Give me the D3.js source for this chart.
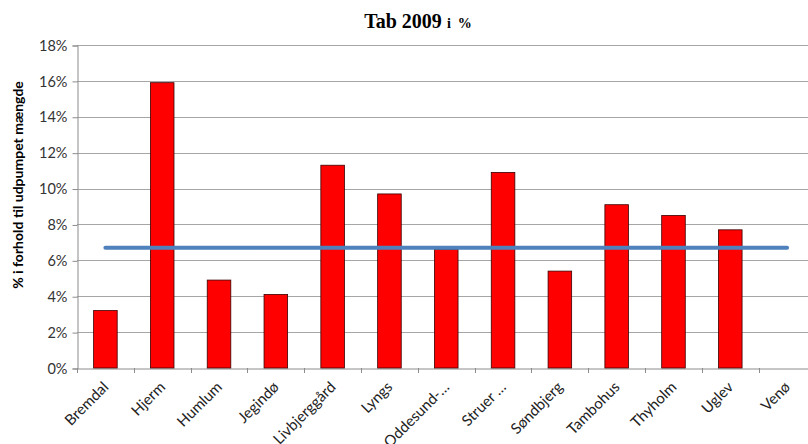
<!DOCTYPE html>
<html>
<head>
<meta charset="utf-8">
<script src="https://cdn.jsdelivr.net/npm/d3@7"></script>
<style>
  html, body { margin: 0; padding: 0; background: #fff; }
  svg { display: block; }
</style>
</head>
<body>
<svg id="chart" width="808" height="444"></svg>
<script>
const categories = ["Bremdal", "Hjerm", "Humlum", "Jegindø", "Livbjerggård", "Lyngs", "Oddesund-…", "Struer …", "Søndbjerg", "Tambohus", "Thyholm", "Uglev", "Venø"];
const tabValues = [3.2, 15.9, 4.9, 4.1, 11.3, 9.7, 6.6, 10.9, 5.4, 9.1, 8.5, 7.7, null];
const averageValues = [6.7, 6.7, 6.7, 6.7, 6.7, 6.7, 6.7, 6.7, 6.7, 6.7, 6.7, 6.7, 6.7];
const yTicks = [0, 2, 4, 6, 8, 10, 12, 14, 16, 18];
const titleMain = "Tab 2009";
const titleSub = "i %";
const yTitle = "% i forhold til udpumpet mængde";

const svg = d3.select("#chart");
const pLeft = 77, pRight = 815.5, pTop = 45, pBottom = 368;

const x = d3.scaleBand().domain(categories).range([pLeft, pRight]).paddingInner(0).paddingOuter(0);
const y = d3.scaleLinear().domain([0, 18]).range([pBottom, pTop]);
const barW = x.bandwidth() * 0.415;

// gridlines
svg.append("g").selectAll("line").data(yTicks.filter(d => d > 0)).join("line")
  .attr("x1", pLeft).attr("x2", pRight)
  .attr("y1", d => Math.round(y(d)) + 0.5).attr("y2", d => Math.round(y(d)) + 0.5)
  .attr("stroke", "#a6a6a6").attr("stroke-width", 1);

// y axis
const yAxis = d3.axisLeft(y).tickValues(yTicks).tickFormat(d => d + "%").tickSize(5).tickPadding(5);
const gy = svg.append("g").attr("transform", `translate(${pLeft + 0.5},0.5)`).call(yAxis);
gy.select(".domain").attr("stroke", "#8c8c8c");
gy.selectAll(".tick line").attr("stroke", "#8c8c8c");
gy.selectAll("text").attr("font-family", "Lato, 'Open Sans', sans-serif").attr("font-size", 14.5).attr("fill", "#333");

// x axis
const xAxis = d3.axisBottom(x).tickSize(0).tickFormat("");
const gx = svg.append("g").attr("transform", `translate(0,${pBottom + 0.5})`).call(xAxis);
gx.select(".domain").attr("stroke", "#8c8c8c");
// category boundary ticks
svg.append("g").selectAll("line").data(categories).join("line")
  .attr("x1", d => Math.round(x(d)) + 0.5).attr("x2", d => Math.round(x(d)) + 0.5)
  .attr("y1", pBottom).attr("y2", pBottom + 5)
  .attr("stroke", "#8c8c8c");

// bars
svg.append("g").selectAll("rect").data(categories.map((c, i) => ({c, v: tabValues[i]})).filter(d => d.v != null)).join("rect")
  .attr("x", d => x(d.c) + (x.bandwidth() - barW) / 2)
  .attr("width", barW)
  .attr("y", d => y(d.v))
  .attr("height", d => y(0) - y(d.v))
  .attr("fill", "#ff0000")
  .attr("stroke", "#3a0000").attr("stroke-width", 0.8);

// average line
const line = d3.line().x(d => x(d.c) + x.bandwidth() / 2).y(d => y(d.v));
svg.append("path")
  .datum(categories.map((c, i) => ({c, v: averageValues[i]})))
  .attr("d", line)
  .attr("fill", "none").attr("stroke", "#4f81bd").attr("stroke-width", 4).attr("stroke-linecap", "round");

// x labels
svg.append("g").selectAll("text").data(categories).join("text")
  .attr("transform", d => `translate(${x(d) + x.bandwidth() / 2 + 4},${pBottom + 20}) rotate(-45)`)
  .attr("text-anchor", "end")
  .attr("font-family", "Lato, 'Open Sans', sans-serif").attr("font-size", 15).attr("fill", "#222")
  .text(d => d);

// title
const t = svg.append("text").attr("x", 418).attr("y", 28).attr("text-anchor", "middle")
  .attr("font-family", "'Liberation Serif', 'Times New Roman', serif").attr("font-weight", "bold").attr("fill", "#000");
t.append("tspan").attr("font-size", 20).text(titleMain);
t.append("tspan").attr("font-size", 14).attr("dx", 5).text(titleSub.replace(" ", "\u00a0\u00a0"));

// y title
svg.append("text")
  .attr("transform", `translate(23,185) rotate(-90)`)
  .attr("text-anchor", "middle")
  .attr("font-family", "Lato, 'Open Sans', sans-serif").attr("font-weight", "bold").attr("font-size", 14).attr("fill", "#000")
  .text(yTitle);
</script>
</body>
</html>
